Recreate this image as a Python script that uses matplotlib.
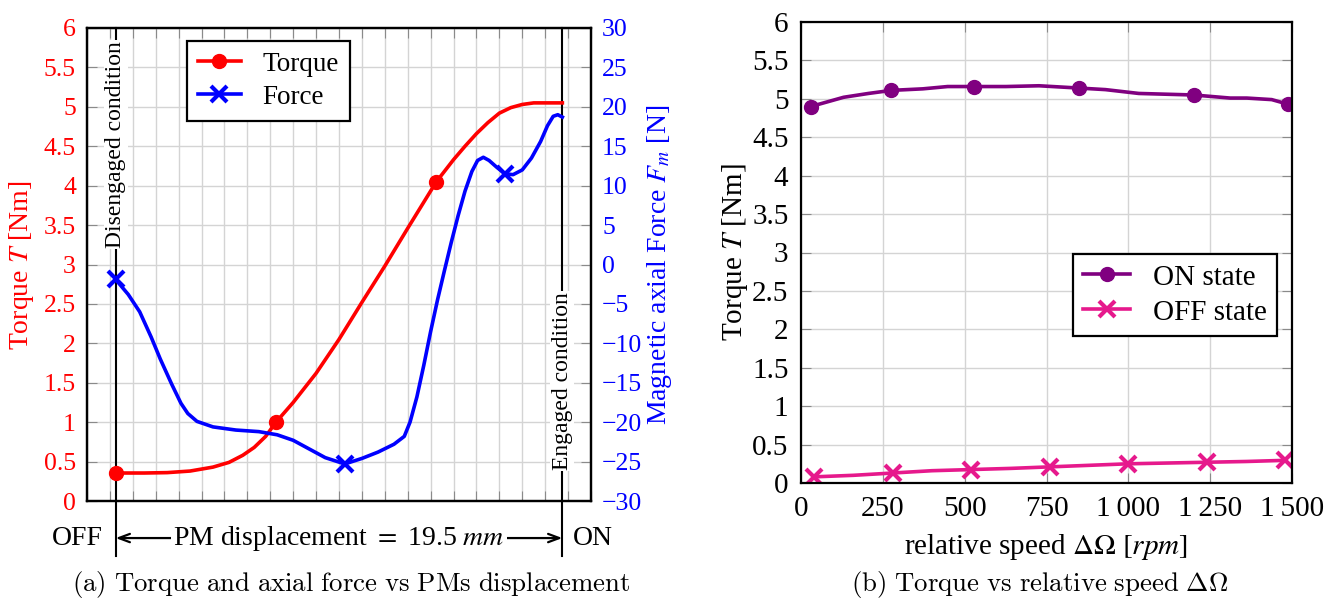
import numpy as np
import matplotlib
matplotlib.use('Agg')
import matplotlib.pyplot as plt
from matplotlib.ticker import FuncFormatter

plt.rcParams['font.family'] = ['Liberation Serif', 'DejaVu Serif']
plt.rcParams['mathtext.fontset'] = 'stix'

# (a) torque and axial force vs PM displacement (x axis runs 0..22, OFF at 1.25, ON at 20.75)
x_off = 1.25
x_on = 20.75

torque_x = [1.25, 2.5, 3.5, 4.5, 5.5, 6.2, 6.8, 7.3, 7.8, 8.25, 9.0, 10.0, 11.0, 12.0, 13.0,
            14.0, 15.25, 16.0, 16.5, 17.0, 17.5, 18.0, 18.5, 19.0, 19.5, 20.75]
torque_T = [0.355, 0.355, 0.36, 0.38, 0.43, 0.49, 0.58, 0.68, 0.82, 1.0, 1.25, 1.62, 2.05, 2.52,
            2.98, 3.46, 4.05, 4.33, 4.50, 4.66, 4.80, 4.92, 4.99, 5.03, 5.05, 5.05]
torque_marks = [0, 9, 16]

force_x = [1.25, 1.8, 2.3, 2.8, 3.2, 3.7, 4.1, 4.4, 4.8, 5.5, 6.5, 7.5, 8.3, 9.0, 9.7, 10.4, 11.25,
           12.0, 12.7, 13.4, 13.85, 14.1, 14.4, 14.7, 15.0, 15.3, 15.6, 15.9, 16.2, 16.5, 16.8,
           17.05, 17.3, 17.55, 17.9, 18.25, 18.6, 19.0, 19.4, 19.8, 20.1, 20.35, 20.55, 20.75]
force_F = [-1.9, -3.8, -6.0, -9.2, -12.0, -15.2, -17.6, -18.9, -19.9, -20.6, -21.0, -21.2, -21.6,
           -22.3, -23.4, -24.5, -25.3, -24.6, -23.8, -22.8, -21.8, -20.0, -16.8, -12.8, -8.5, -4.5,
           -0.8, 2.8, 6.2, 9.3, 11.8, 13.2, 13.6, 13.2, 12.3, 11.5, 11.4, 12.0, 13.5, 15.6, 17.6,
           18.8, 19.0, 18.7]
force_marks = [0, 16, 35]

# (b) torque vs relative speed
speed_on = [30, 80, 130, 206, 276, 372, 448, 529, 626, 727, 850, 930, 1032, 1200, 1311, 1362, 1438, 1488]
torque_on = [4.90, 4.96, 5.02, 5.07, 5.11, 5.13, 5.16, 5.16, 5.16, 5.17, 5.14, 5.12, 5.07, 5.05,
             5.01, 5.01, 4.99, 4.93]
on_marks = [0, 4, 7, 10, 13, 17]

speed_off = [40, 160, 280, 400, 520, 640, 760, 880, 1000, 1120, 1240, 1360, 1480]
torque_off = [0.08, 0.10, 0.13, 0.16, 0.175, 0.19, 0.21, 0.23, 0.25, 0.26, 0.27, 0.28, 0.295]
off_marks = [0, 2, 4, 6, 8, 10, 12]

W, H = 1343, 602


def px_axes(x0, y0, x1, y1):
    return [x0 / W, 1 - y1 / H, (x1 - x0) / W, (y1 - y0) / H]


def num(v, p):
    s = '%g' % v
    if abs(v) >= 1000:
        s = '%d\u2009%03d' % (int(v) // 1000, int(v) % 1000)
    return s.replace('-', '\u2212')


grid_c = '#d4d4d4'
tick_c = '#8a8a8a'

fig = plt.figure(figsize=(W / 100, H / 100), dpi=100)

# ---------------- left panel ----------------
ax = fig.add_axes(px_axes(87, 28, 591, 501))
ax2 = ax.twinx()
ax.set_xlim(0, 22)
ax.set_ylim(0, 6)
ax2.set_ylim(-30, 30)
ax.set_xticks(np.arange(0, 23, 1))
ax.set_xticklabels([])
ax.set_yticks(np.arange(0, 6.01, 0.5))
ax.yaxis.set_major_formatter(FuncFormatter(num))
ax2.set_yticks(np.arange(-30, 31, 5))
ax2.yaxis.set_major_formatter(FuncFormatter(num))
ax.grid(True, color=grid_c, lw=1)
ax.set_axisbelow(True)
ax.tick_params(axis='x', direction='in', length=7, color=tick_c, top=True, bottom=True)
ax.tick_params(axis='y', direction='in', length=7, color=tick_c, labelcolor='red',
               labelsize=18.5, pad=8)
ax2.tick_params(axis='y', direction='in', length=7, color=tick_c, labelcolor='blue',
                labelsize=18.5, pad=8)
for a in (ax, ax2):
    for s in a.spines.values():
        s.set_linewidth(1.6)

l1, = ax.plot(torque_x, torque_T, color='red', lw=2.6, marker='o', ms=10,
              markevery=torque_marks, label='Torque', zorder=3)
l2, = ax2.plot(force_x, force_F, color='blue', lw=2.6, marker='x', ms=11, mew=3,
               markevery=force_marks, label='Force')

# OFF / ON lines
for xv in (x_off, x_on):
    ax.plot([xv, xv], [-0.70, 6], color='black', lw=1.5, clip_on=False, zorder=2.5)
ax.text(x_off, 4.52, 'Disengaged condition', rotation=90, ha='center', va='center',
        fontsize=17, zorder=4, bbox=dict(facecolor='white', edgecolor='none', pad=1))
ax.text(x_on, 1.52, 'Engaged condition', rotation=90, ha='center', va='center',
        fontsize=17, zorder=4, bbox=dict(facecolor='white', edgecolor='none', pad=1))

ax.annotate('', xy=(x_on, -0.47), xytext=(x_off, -0.47), annotation_clip=False,
            arrowprops=dict(arrowstyle='<->,head_length=0.8,head_width=0.3', color='black',
                            lw=1.6, shrinkA=0, shrinkB=0))
ax.text((x_off + x_on) / 2, -0.47, r'PM displacement $=$ 19.5 $mm$', ha='center', va='center',
        fontsize=20, clip_on=False, zorder=4,
        bbox=dict(facecolor='white', edgecolor='none', pad=2))
ax.text(x_off - 0.55, -0.47, 'OFF', ha='right', va='center', fontsize=20, clip_on=False)
ax.text(x_on + 0.45, -0.47, 'ON', ha='left', va='center', fontsize=20, clip_on=False)

leg = ax2.legend(handles=[l1, l2], loc='upper left', bbox_to_anchor=(0.198, 0.973),
                 borderaxespad=0, fontsize=19.5, handlelength=1.6, fancybox=False,
                 framealpha=1, edgecolor='black', borderpad=0.4, labelspacing=0.3)
leg.get_frame().set_linewidth(1.6)

fig.text(22 / W, 1 - 265 / H, r'Torque $T$ [Nm]', rotation=90, ha='center', va='center',
         color='red', fontsize=20)
fig.text(660 / W, 1 - 265 / H, r'Magnetic axial Force $F_m$ [N]', rotation=90, ha='center',
         va='center', color='blue', fontsize=20)

fig.text(351 / W, 1 - 585 / H, r'$\mathrm{(a)\ Torque\ and\ axial\ force\ vs\ PMs\ displacement}$',
         math_fontfamily='cm', ha='center', va='center', fontsize=19.3)

# ---------------- right panel ----------------
axr = fig.add_axes(px_axes(801, 22, 1292, 483))
axr.set_xlim(0, 1500)
axr.set_ylim(0, 6)
axr.set_xticks(np.arange(0, 1501, 250))
axr.set_yticks(np.arange(0, 6.01, 0.5))
axr.xaxis.set_major_formatter(FuncFormatter(num))
axr.yaxis.set_major_formatter(FuncFormatter(num))
axr.grid(True, color=grid_c, lw=1)
axr.set_axisbelow(True)
axr.tick_params(direction='in', length=7, color=tick_c, top=True, right=True,
                labelsize=21, pad=9)
for s in axr.spines.values():
    s.set_linewidth(1.6)

axr.plot(speed_on, torque_on, color='#800080', lw=2.6, marker='o', ms=10,
         markevery=on_marks, label='ON state')
axr.plot(speed_off, torque_off, color='#e6198c', lw=2.6, marker='x', ms=11, mew=3,
         markevery=off_marks, label='OFF state')
legr = axr.legend(loc='upper left', bbox_to_anchor=(0.554, 0.497), borderaxespad=0,
                  fontsize=21, handlelength=1.6, fancybox=False, framealpha=1,
                  edgecolor='black', borderpad=0.35, labelspacing=0.3)
legr.get_frame().set_linewidth(1.6)

fig.text(735 / W, 1 - 252 / H, r'Torque $T$ [Nm]', rotation=90, ha='center', va='center',
         fontsize=21)
fig.text(1046 / W, 1 - 547 / H, r'relative speed $\Delta\Omega$ $[rpm]$', ha='center',
         va='center', fontsize=21)
fig.text(1040 / W, 1 - 585 / H, r'$\mathrm{(b)\ Torque\ vs\ relative\ speed\ }\Delta\Omega$',
         math_fontfamily='cm', ha='center', va='center', fontsize=19.3)

fig.savefig('out.png', dpi=100)
